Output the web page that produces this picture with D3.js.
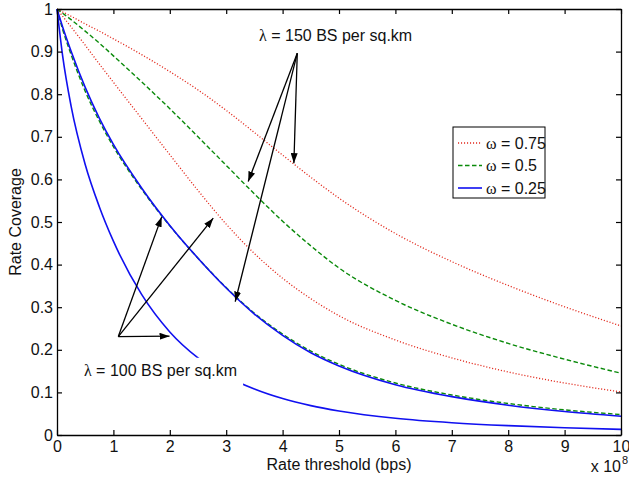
<!DOCTYPE html>
<html>
<head>
<meta charset="utf-8">
<script src="https://cdn.jsdelivr.net/npm/d3@7"></script>
<style>
body { margin: 0; background: #fff; }
svg text { font-family: "Liberation Sans", Arial, Helvetica, sans-serif; fill: #111; }
.sym { font-family: "Liberation Serif", "Times New Roman", serif; }
</style>
</head>
<body>
<svg id="chart" width="629" height="478"></svg>
<script>
// rate threshold, in units of 1e8 bps
const rateX = [0, 0.1, 0.25, 0.5, 0.75, 1, 1.5, 2, 2.5, 3, 3.5, 4, 4.5, 5, 6, 7, 8, 9, 10];

// lambda = 100 BS per sq.km
const red100   = [1, 0.983, 0.958, 0.915, 0.871, 0.828, 0.743, 0.658, 0.574, 0.495, 0.426, 0.368, 0.32, 0.28, 0.223, 0.181, 0.148, 0.122, 0.101];
const green100 = [1, 0.952, 0.893, 0.807, 0.737, 0.677, 0.577, 0.491, 0.415, 0.346, 0.286, 0.237, 0.197, 0.166, 0.122, 0.094, 0.074, 0.059, 0.048];
const blue100  = [1, 0.89, 0.772, 0.635, 0.536, 0.455, 0.33, 0.242, 0.181, 0.138, 0.108, 0.0856, 0.069, 0.0565, 0.0394, 0.0289, 0.0219, 0.0169, 0.0131];
// lambda = 150 BS per sq.km
const red150   = [1, 0.993, 0.983, 0.965, 0.948, 0.93, 0.893, 0.853, 0.81, 0.762, 0.71, 0.657, 0.605, 0.556, 0.473, 0.407, 0.351, 0.301, 0.256];
const green150 = [1, 0.99, 0.975, 0.948, 0.92, 0.89, 0.829, 0.766, 0.70, 0.633, 0.566, 0.502, 0.444, 0.392, 0.316, 0.26, 0.215, 0.178, 0.145];
const blue150  = [1, 0.958, 0.901, 0.816, 0.744, 0.682, 0.58, 0.492, 0.415, 0.345, 0.284, 0.234, 0.193, 0.162, 0.118, 0.09, 0.07, 0.055, 0.044];

const xTicks = [0, 1, 2, 3, 4, 5, 6, 7, 8, 9, 10];
const yTicks = [0, 0.1, 0.2, 0.3, 0.4, 0.5, 0.6, 0.7, 0.8, 0.9, 1];
const legendLabels = ["0.75", "0.5", "0.25"];

// annotations (data coords)
const note150 = [4.94, 0.925];
const from150 = [4.26, 0.896];
const tips150 = [[4.20, 0.638], [3.39, 0.595], [3.16, 0.313]];
const note100 = [1.835, 0.139];
const from100 = [1.087, 0.231];
const tips100 = [[1.856, 0.512], [2.77, 0.509], [1.995, 0.232]];

const W = 629, H = 478;
const margin = {top: 9, right: 8, bottom: 43, left: 57};
const iw = W - margin.left - margin.right;
const ih = H - margin.top - margin.bottom;

const styles = {
  red:   {color: "#e2291c", dash: "1.1,1.9", width: 1.3},
  green: {color: "#0a8a0a", dash: "4.5,2.5", width: 1.4},
  blue:  {color: "#1010f0", dash: null, width: 1.6}
};

const series = [
  {vals: red100, st: styles.red},
  {vals: green100, st: styles.green},
  {vals: blue100, st: styles.blue},
  {vals: red150, st: styles.red},
  {vals: green150, st: styles.green},
  {vals: blue150, st: styles.blue}
];

const svg = d3.select("#chart");
svg.append("rect").attr("width", W).attr("height", H).attr("fill", "#fff");

const g = svg.append("g").attr("transform", `translate(${margin.left},${margin.top})`);

const x = d3.scaleLinear().domain([0, 10]).range([0, iw]);
const y = d3.scaleLinear().domain([0, 1]).range([ih, 0]);

const line = d3.line()
  .x(d => x(d[0]))
  .y(d => y(d[1]))
  .curve(d3.curveMonotoneX);

g.selectAll("path.curve")
  .data(series)
  .enter().append("path")
  .attr("class", "curve")
  .attr("fill", "none")
  .attr("stroke", d => d.st.color)
  .attr("stroke-width", d => d.st.width)
  .attr("stroke-dasharray", d => d.st.dash)
  .attr("d", d => line(rateX.map((v, i) => [v, d.vals[i]])));

// arrow head
svg.append("defs").append("marker")
  .attr("id", "arr")
  .attr("viewBox", "0 0 10 7")
  .attr("refX", 10).attr("refY", 3.5)
  .attr("markerWidth", 10).attr("markerHeight", 7)
  .attr("markerUnits", "userSpaceOnUse")
  .attr("orient", "auto")
  .append("path").attr("d", "M0,0L10,3.5L0,7Z").attr("fill", "#000");

function arrows(from, tips) {
  tips.forEach(t => {
    g.append("line")
      .attr("x1", x(from[0])).attr("y1", y(from[1]))
      .attr("x2", x(t[0])).attr("y2", y(t[1]))
      .attr("stroke", "#000").attr("stroke-width", 1.3)
      .attr("marker-end", "url(#arr)");
  });
}

function lambdaText(pos, num) {
  const t = g.append("text")
    .attr("x", x(pos[0])).attr("y", y(pos[1]))
    .attr("text-anchor", "middle")
    .attr("font-size", 16);
  t.append("tspan").attr("class", "sym").text("λ");
  t.append("tspan").text(` = ${num} BS per sq.km`);
  return t;
}

// lambda = 100 label sits on a white box over the lowest curve
const t100 = lambdaText(note100, 100);
const bb = t100.node().getBBox();
g.insert("rect", "text")
  .attr("x", bb.x - 6).attr("y", bb.y - 4)
  .attr("width", bb.width + 12).attr("height", bb.height + 11)
  .attr("fill", "#fff");

arrows(from100, tips100);
arrows(from150, tips150);
lambdaText(note150, 150);

// legend
const leg = svg.append("g").attr("transform", "translate(453,127)");
leg.append("rect").attr("width", 92).attr("height", 71)
  .attr("fill", "#fff").attr("stroke", "#000").attr("stroke-width", 1);
[styles.red, styles.green, styles.blue].forEach((st, i) => {
  const yy = 16 + i * 22.5;
  leg.append("line").attr("x1", 5).attr("x2", 29).attr("y1", yy).attr("y2", yy)
    .attr("stroke", st.color).attr("stroke-width", st.width)
    .attr("stroke-dasharray", st.dash);
  const t = leg.append("text").attr("x", 33).attr("y", yy).attr("dy", "0.36em").attr("font-size", 16);
  t.append("tspan").attr("class", "sym").text("ω");
  t.append("tspan").text(` = ${legendLabels[i]}`);
});

// axes, ticks inward on all sides
const fmtY = d => d === 0 || d === 1 ? String(d) : d3.format(".1f")(d);
g.append("g").attr("transform", `translate(0,${ih})`)
  .call(d3.axisBottom(x).tickValues(xTicks).tickSizeInner(-5).tickSizeOuter(0).tickPadding(6).tickFormat(d3.format("d")));
g.append("g")
  .call(d3.axisLeft(y).tickValues(yTicks).tickSizeInner(-5).tickSizeOuter(0).tickPadding(4).tickFormat(fmtY));
g.append("g")
  .call(d3.axisTop(x).tickValues(xTicks).tickSizeInner(-5).tickSizeOuter(0).tickFormat(""));
g.append("g").attr("transform", `translate(${iw},0)`)
  .call(d3.axisRight(y).tickValues(yTicks).tickSizeInner(-5).tickSizeOuter(0).tickFormat(""));

g.selectAll(".domain").attr("stroke", "#000").attr("stroke-width", 1.3);
g.selectAll(".tick line").attr("stroke", "#000").attr("stroke-width", 1.2);
g.selectAll(".tick text").attr("font-size", 16).attr("fill", "#111")
  .style("font-family", '"Liberation Sans", Arial, sans-serif');

// axis titles
svg.append("text")
  .attr("x", margin.left + iw / 2).attr("y", 470)
  .attr("text-anchor", "middle").attr("font-size", 16)
  .text("Rate threshold (bps)");
svg.append("text")
  .attr("transform", `translate(21,${margin.top + ih / 2}) rotate(-90)`)
  .attr("text-anchor", "middle").attr("font-size", 16)
  .text("Rate Coverage");

// x 10^8 multiplier
svg.append("text").attr("x", 621).attr("y", 472).attr("text-anchor", "end")
  .attr("font-size", 16).text("x 10");
svg.append("text").attr("x", 622).attr("y", 464)
  .attr("font-size", 11).text("8");
</script>
</body>
</html>
